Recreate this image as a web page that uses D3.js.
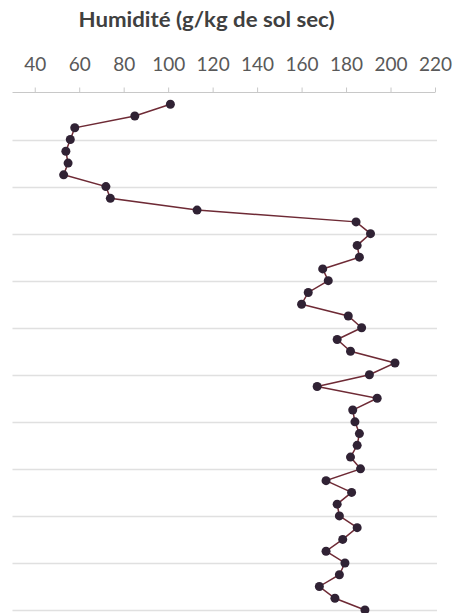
<!DOCTYPE html>
<html>
<head>
<meta charset="utf-8">
<script src="https://cdn.jsdelivr.net/npm/d3@7"></script>
<style>
  html, body { margin: 0; padding: 0; background: #ffffff; }
  svg { display: block; }
</style>
</head>
<body>
<svg id="chart" width="458" height="613"></svg>
<script>
// Data
const title = "Humidité (g/kg de sol sec)";
const xTicks = [40, 60, 80, 100, 120, 140, 160, 180, 200, 220];
const depthGrid = [20, 40, 60, 80, 100, 120, 140, 160, 180, 200, 220];
const depth = [5, 10, 15, 20, 25, 30, 35, 40, 45, 50,
               55, 60, 65, 70, 75, 80, 85, 90, 95, 100,
               105, 110, 115, 120, 125, 130, 135, 140, 145, 150,
               155, 160, 165, 170, 175, 180, 185, 190, 195, 200,
               205, 210, 215, 220];
const humidity = [101, 85, 58, 56, 54, 55, 53, 72, 74, 113,
                  184.5, 191, 185, 186, 169.5, 172, 163, 160, 181, 187,
                  176, 182, 202, 190.5, 167, 194, 183, 184, 186, 185,
                  182, 186.5, 171, 182.5, 176, 177, 185, 178.5, 171, 179.5,
                  177, 168, 175, 188.5];

(function () {
const svg = d3.select("#chart");
const pLeft = 12.5, pRight = 435, pTop = 92.5, pBottom = 610;

const x = d3.scaleLinear().domain([30, 220]).range([pLeft, pRight]);
const y = d3.scaleLinear().domain([0, 220]).range([pTop, pBottom]);

// Gridlines
svg.append("g").selectAll("line").data(depthGrid).join("line")
  .attr("x1", pLeft).attr("x2", pRight + 2)
  .attr("y1", d => Math.round(y(d)) + 0.5).attr("y2", d => Math.round(y(d)) + 0.5)
  .attr("stroke", "#e0e0e0").attr("stroke-width", 1.3);

// Top axis
const axis = d3.axisTop(x).tickValues(xTicks).tickSize(5).tickPadding(17);
const gAxis = svg.append("g").attr("transform", `translate(0,${pTop})`).call(axis);
gAxis.select(".domain").attr("stroke", "#c8c8c8").attr("d", `M${pLeft},0H${pRight}`);
gAxis.selectAll(".tick line").attr("stroke", "#c8c8c8");
gAxis.selectAll(".tick text")
  .attr("fill", "#595959")
  .style("font-family", "Lato, 'Liberation Sans', Arial, sans-serif")
  .style("font-size", "19px");

// Title
const t = svg.append("text")
  .attr("x", 206.5).attr("y", 27)
  .attr("text-anchor", "middle")
  .attr("fill", "#404040")
  .style("font-family", "Lato, 'Liberation Sans', Arial, sans-serif")
  .style("font-weight", "bold")
  .style("font-size", "20px")
  .text(title);
t.attr("textLength", 256).attr("lengthAdjust", "spacingAndGlyphs");

// Line
const pts = depth.map((d, i) => ({ d: d, h: humidity[i] }));
const line = d3.line().x(p => x(p.h)).y(p => y(p.d));
svg.append("path").datum(pts)
  .attr("d", line)
  .attr("fill", "none")
  .attr("stroke", "#6e2a35")
  .attr("stroke-width", 1.5);

// Markers
svg.append("g").selectAll("circle").data(pts).join("circle")
  .attr("cx", p => x(p.h)).attr("cy", p => y(p.d))
  .attr("r", 4.5)
  .attr("fill", "#302234");
})();
</script>
</body>
</html>
